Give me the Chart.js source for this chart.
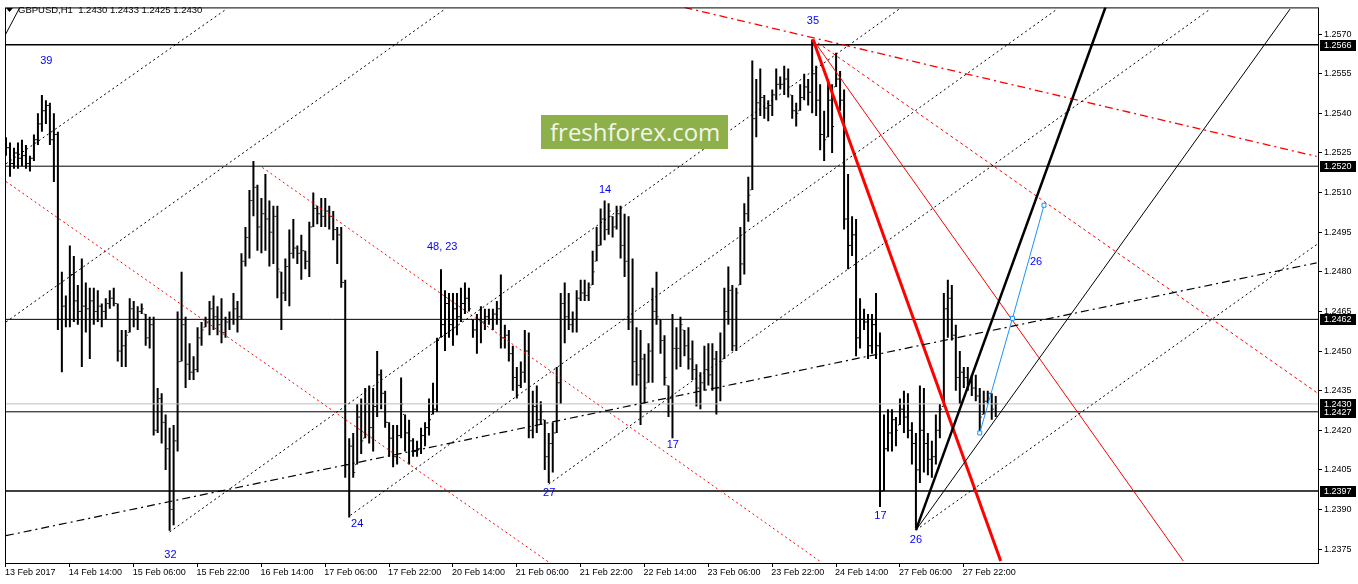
<!DOCTYPE html>
<html>
<head>
<meta charset="utf-8">
<title>GBPUSD,H1</title>
<script src="https://cdn.jsdelivr.net/npm/chart.js@4.4.1/dist/chart.umd.min.js"></script>
<style>
  html, body { margin: 0; padding: 0; background: #fff; }
  #wrap { position: relative; width: 1358px; height: 584px; }
  #watermark {
    position: absolute; left: 541px; top: 115px; width: 187px; height: 34px;
    background: #8db04a; color: #f2f6ea; font: 24px 'Open Sans', sans-serif;
    line-height: 34px; padding-left: 9px; box-sizing: border-box; white-space: nowrap;
  }
</style>
</head>
<body>
<div id="wrap">
  <canvas id="chart" width="1358" height="584"></canvas>
  <div id="watermark">freshforex.com</div>
</div>
<script>
// Hourly bars, 13 Feb 2017 22:00 .. 28 Feb 06:00 (bar index = hours on the chart)
const opens = [
  1.2525,1.2527,1.2521,1.2525,1.2523,1.2524,1.2521,1.2523,1.2530,1.2536,
  1.2541,1.2543,1.2530,1.2532,1.2462,1.2467,1.2462,1.2479,1.2469,1.2465,
  1.2467,1.2466,1.2469,1.2465,1.2467,1.2465,1.2468,1.2470,1.2468,1.2450,
  1.2452,1.2457,1.2466,1.2462,1.2465,1.2464,1.2455,1.2460,1.2420,1.2432,
  1.2423,1.2413,1.2390,1.2416,1.2446,1.2460,1.2445,1.2442,1.2443,1.2455,
  1.2459,1.2461,1.2466,1.2463,1.2460,1.2457,1.2461,1.2462,1.2466,1.2463,
  1.2484,1.2493,1.2507,1.2512,1.2497,1.2502,1.2500,1.2495,1.2501,1.2480,
  1.2472,1.2482,1.2487,1.2489,1.2487,1.2488,1.2484,1.2497,1.2504,1.2502,
  1.2501,1.2503,1.2501,1.2496,1.2494,1.2476,1.2407,1.2414,1.2407,1.2425,
  1.2417,1.2430,1.2421,1.2429,1.2441,1.2434,1.2423,1.2417,1.2410,1.2418,
  1.2426,1.2419,1.2416,1.2412,1.2413,1.2418,1.2421,1.2426,1.2428,1.2455,
  1.2460,1.2468,1.2460,1.2466,1.2463,1.2468,1.2470,1.2462,1.2458,1.2462,
  1.2461,1.2463,1.2462,1.2464,1.2466,1.2455,1.2456,1.2449,1.2440,1.2437,
  1.2442,1.2450,1.2420,1.2429,1.2424,1.2424,1.2410,1.2415,1.2419,1.2438,
  1.2468,1.2463,1.2460,1.2462,1.2470,1.2472,1.2471,1.2475,1.2484,1.2490,
  1.2500,1.2496,1.2501,1.2497,1.2502,1.2490,1.2484,1.2461,1.2446,1.2441,
  1.2447,1.2438,1.2450,1.2465,1.2462,1.2454,1.2437,1.2432,1.2451,1.2451,
  1.2458,1.2452,1.2447,1.2443,1.2436,1.2438,1.2443,1.2441,1.2447,1.2436,
  1.2447,1.2465,1.2473,1.2452,1.2475,1.2483,1.2502,1.2511,1.2538,1.2544,
  1.2546,1.2542,1.2543,1.2547,1.2551,1.2551,1.2553,1.2547,1.2541,1.2541,
  1.2546,1.2550,1.2548,1.2555,1.2545,1.2532,1.2531,1.2545,1.2550,1.2553,
  1.2545,1.2500,1.2490,1.2494,1.2455,1.2462,1.2461,1.2452,1.2460,1.2452,
  1.2397,1.2413,1.2419,1.2424,1.2422,1.2428,1.2425,1.2420,1.2415,1.2405,
  1.2420,1.2415,1.2409,1.2410,1.2420,1.2429,1.2466,1.2470,1.2456,1.2440,
  1.2442,1.2440,1.2438,1.2436,1.2433,1.2426,1.2431,1.2434,1.2430
];
const highs = [
  1.2531,1.2529,1.2527,1.2529,1.2530,1.2528,1.2524,1.2532,1.2540,1.2547,
  1.2545,1.2544,1.2540,1.2533,1.2480,1.2471,1.2490,1.2486,1.2475,1.2485,
  1.2476,1.2474,1.2474,1.2473,1.2468,1.2470,1.2473,1.2474,1.2468,1.2458,
  1.2458,1.2470,1.2469,1.2467,1.2468,1.2464,1.2463,1.2463,1.2436,1.2434,
  1.2426,1.2421,1.2422,1.2465,1.2480,1.2463,1.2453,1.2448,1.2459,1.2461,
  1.2463,1.2469,1.2471,1.2467,1.2470,1.2463,1.2465,1.2472,1.2469,1.2487,
  1.2497,1.2511,1.2522,1.2513,1.2508,1.2517,1.2507,1.2505,1.2505,1.2480,
  1.2485,1.2496,1.2500,1.2490,1.2494,1.2488,1.2499,1.2510,1.2505,1.2508,
  1.2508,1.2505,1.2503,1.2497,1.2497,1.2477,1.2417,1.2419,1.2430,1.2432,
  1.2436,1.2437,1.2436,1.2450,1.2443,1.2435,1.2423,1.2422,1.2422,1.2440,
  1.2426,1.2424,1.2417,1.2416,1.2421,1.2423,1.2432,1.2438,1.2455,1.2481,
  1.2473,1.2472,1.2472,1.2472,1.2474,1.2476,1.2474,1.2462,1.2464,1.2467,
  1.2466,1.2466,1.2466,1.2469,1.2479,1.2460,1.2458,1.2452,1.2444,1.2446,
  1.2458,1.2457,1.2435,1.2437,1.2431,1.2424,1.2419,1.2423,1.2444,1.2472,
  1.2476,1.2472,1.2465,1.2473,1.2477,1.2477,1.2476,1.2488,1.2497,1.2504,
  1.2507,1.2506,1.2501,1.2505,1.2505,1.2502,1.2501,1.2485,1.2459,1.2458,
  1.2449,1.2453,1.2474,1.2480,1.2462,1.2456,1.2437,1.2464,1.2459,1.2463,
  1.2458,1.2459,1.2454,1.2445,1.2442,1.2452,1.2453,1.2453,1.2450,1.2457,
  1.2474,1.2482,1.2475,1.2474,1.2497,1.2506,1.2516,1.2560,1.2553,1.2557,
  1.2547,1.2545,1.2549,1.2557,1.2554,1.2558,1.2557,1.2547,1.2544,1.2551,
  1.2555,1.2553,1.2568,1.2558,1.2551,1.2541,1.2553,1.2551,1.2563,1.2556,
  1.2549,1.2517,1.2501,1.2500,1.2470,1.2466,1.2464,1.2464,1.2472,1.2457,
  1.2426,1.2428,1.2428,1.2425,1.2432,1.2435,1.2434,1.2423,1.2419,1.2437,
  1.2436,1.2419,1.2416,1.2426,1.2430,1.2472,1.2477,1.2475,1.2460,1.2450,
  1.2444,1.2444,1.2441,1.2441,1.2436,1.2435,1.2435,1.2434,1.2433
];
const lows = [
  1.2524,1.2516,1.2519,1.2519,1.2520,1.2519,1.2518,1.2522,1.2528,1.2533,
  1.2536,1.2528,1.2514,1.2458,1.2442,1.2459,1.2459,1.2461,1.2460,1.2444,
  1.2457,1.2447,1.2460,1.2461,1.2459,1.2462,1.2466,1.2467,1.2446,1.2444,
  1.2444,1.2457,1.2459,1.2458,1.2464,1.2452,1.2451,1.2418,1.2419,1.2415,
  1.2405,1.2382,1.2384,1.2412,1.2446,1.2436,1.2439,1.2439,1.2442,1.2452,
  1.2459,1.2456,1.2458,1.2456,1.2453,1.2455,1.2458,1.2460,1.2457,1.2462,
  1.2482,1.2485,1.2501,1.2488,1.2487,1.2488,1.2482,1.2483,1.2470,1.2458,
  1.2469,1.2467,1.2485,1.2483,1.2477,1.2481,1.2478,1.2497,1.2498,1.2497,
  1.2497,1.2496,1.2492,1.2483,1.2474,1.2402,1.2387,1.2402,1.2407,1.2411,
  1.2417,1.2415,1.2412,1.2425,1.2428,1.2421,1.2410,1.2406,1.2407,1.2417,
  1.2412,1.2407,1.2410,1.2410,1.2411,1.2414,1.2418,1.2426,1.2427,1.2455,
  1.2450,1.2455,1.2452,1.2456,1.2461,1.2464,1.2465,1.2455,1.2449,1.2453,
  1.2458,1.2460,1.2458,1.2460,1.2451,1.2451,1.2446,1.2435,1.2432,1.2436,
  1.2438,1.2417,1.2417,1.2419,1.2422,1.2405,1.2400,1.2404,1.2419,1.2430,
  1.2453,1.2458,1.2457,1.2457,1.2469,1.2469,1.2469,1.2475,1.2484,1.2490,
  1.2492,1.2494,1.2493,1.2496,1.2485,1.2478,1.2458,1.2437,1.2437,1.2422,
  1.2430,1.2438,1.2438,1.2460,1.2449,1.2437,1.2425,1.2417,1.2443,1.2444,
  1.2448,1.2443,1.2439,1.2429,1.2428,1.2435,1.2437,1.2435,1.2426,1.2431,
  1.2447,1.2460,1.2450,1.2450,1.2475,1.2479,1.2499,1.2511,1.2531,1.2539,
  1.2538,1.2537,1.2539,1.2545,1.2549,1.2547,1.2546,1.2538,1.2535,1.2541,
  1.2545,1.2543,1.2540,1.2539,1.2526,1.2522,1.2531,1.2525,1.2550,1.2541,
  1.2496,1.2481,1.2486,1.2448,1.2451,1.2458,1.2447,1.2449,1.2447,1.2391,
  1.2397,1.2412,1.2412,1.2414,1.2422,1.2419,1.2417,1.2407,1.2383,1.2400,
  1.2404,1.2403,1.2402,1.2407,1.2417,1.2429,1.2455,1.2454,1.2435,1.2430,
  1.2436,1.2435,1.2433,1.2431,1.2419,1.2426,1.2430,1.2424,1.2425
];
const closes = [
  1.2527,1.2521,1.2525,1.2523,1.2524,1.2521,1.2523,1.2530,1.2536,1.2541,
  1.2543,1.2530,1.2532,1.2462,1.2467,1.2462,1.2479,1.2469,1.2465,1.2467,
  1.2466,1.2469,1.2465,1.2467,1.2465,1.2468,1.2470,1.2468,1.2450,1.2452,
  1.2456,1.2466,1.2462,1.2465,1.2466,1.2455,1.2460,1.2420,1.2432,1.2423,
  1.2413,1.2390,1.2416,1.2446,1.2460,1.2445,1.2442,1.2443,1.2455,1.2458,
  1.2461,1.2466,1.2463,1.2460,1.2457,1.2461,1.2462,1.2466,1.2463,1.2484,
  1.2493,1.2507,1.2512,1.2497,1.2502,1.2500,1.2495,1.2501,1.2481,1.2472,
  1.2482,1.2487,1.2489,1.2487,1.2488,1.2484,1.2497,1.2504,1.2502,1.2501,
  1.2503,1.2501,1.2496,1.2494,1.2476,1.2407,1.2414,1.2404,1.2425,1.2416,
  1.2430,1.2421,1.2429,1.2441,1.2434,1.2423,1.2417,1.2410,1.2418,1.2430,
  1.2419,1.2416,1.2412,1.2413,1.2418,1.2421,1.2424,1.2428,1.2454,1.2460,
  1.2468,1.2460,1.2466,1.2463,1.2468,1.2470,1.2466,1.2458,1.2462,1.2461,
  1.2463,1.2462,1.2464,1.2466,1.2455,1.2456,1.2449,1.2440,1.2437,1.2442,
  1.2450,1.2420,1.2429,1.2424,1.2427,1.2410,1.2415,1.2419,1.2438,1.2468,
  1.2463,1.2460,1.2462,1.2470,1.2472,1.2471,1.2474,1.2480,1.2490,1.2500,
  1.2496,1.2503,1.2497,1.2502,1.2490,1.2484,1.2461,1.2446,1.2441,1.2447,
  1.2436,1.2450,1.2465,1.2463,1.2454,1.2440,1.2432,1.2451,1.2451,1.2460,
  1.2452,1.2447,1.2443,1.2436,1.2438,1.2443,1.2441,1.2447,1.2436,1.2446,
  1.2465,1.2473,1.2452,1.2472,1.2483,1.2502,1.2509,1.2538,1.2544,1.2546,
  1.2542,1.2543,1.2547,1.2551,1.2551,1.2553,1.2550,1.2541,1.2540,1.2546,
  1.2550,1.2548,1.2555,1.2545,1.2532,1.2530,1.2545,1.2535,1.2553,1.2545,
  1.2500,1.2490,1.2494,1.2455,1.2462,1.2461,1.2452,1.2460,1.2452,1.2397,
  1.2413,1.2419,1.2424,1.2420,1.2428,1.2425,1.2420,1.2415,1.2405,1.2420,
  1.2415,1.2409,1.2410,1.2420,1.2428,1.2466,1.2470,1.2456,1.2440,1.2442,
  1.2440,1.2438,1.2436,1.2433,1.2425,1.2431,1.2434,1.2428,1.2430
];

// time axis
const tickBars = [0, 16, 32, 48, 64, 80, 96, 112, 128, 144, 160, 176, 192, 208, 224, 240];
const tickLabels = ['13 Feb 2017', '14 Feb 14:00', '15 Feb 06:00', '15 Feb 22:00', '16 Feb 14:00',
  '17 Feb 06:00', '17 Feb 22:00', '20 Feb 14:00', '21 Feb 06:00', '21 Feb 22:00', '22 Feb 14:00',
  '23 Feb 06:00', '23 Feb 22:00', '24 Feb 14:00', '27 Feb 06:00', '27 Feb 22:00'];

// price axis
const priceTicks = [1.2375, 1.2390, 1.2405, 1.2420, 1.2435, 1.2450, 1.2465,
  1.2480, 1.2495, 1.2510, 1.2525, 1.2540, 1.2555, 1.2570];
const priceMin = 1.236975;
const priceMax = 1.2580125;
const levelPrices = [1.2566, 1.2520, 1.2462, 1.2427, 1.2397];
const bidPrice = 1.2430;
const levelBoxes = [1.2566, 1.2520, 1.2462, 1.2430, 1.2427, 1.2397];

// trend lines, [bar, price] pairs
const channelA = [[0, 1.25209], [54.75, 1.25790]];
const channelB = [[0, 1.24610], [110, 1.25795]];
const channelC = [[41, 1.23815], [224, 1.25797]];
const channelD = [[86.3, 1.23878], [263.4, 1.25795]];
const channelE = [[136, 1.23996], [301.75, 1.25795]];
const channelG = [[228, 1.23822], [328.4, 1.24903]];
const cornerLine = [[-0.25, 1.25695], [3.5, 1.25802]];
const slowLine = [[0, 1.23801], [328.4, 1.24834]];
const fanThick = [[228, 1.23822], [275.5, 1.25802]];
const fanThin = [[228, 1.23822], [321.75, 1.25795]];
const redDotA = [[0, 1.25142], [136.25, 1.23698]];
const redDotB = [[64.25, 1.25195], [204.25, 1.23701]];
const redDashDot = [[170, 1.25801], [328.4, 1.25237]];
const redDash = [[202.2, 1.25680], [328.8, 1.24339]];
const redThin = [[202.2, 1.25680], [295, 1.23705]];
const redThick = [[202.2, 1.25680], [249.25, 1.23705]];
const blueWave = [[244, 1.24190], [252.2, 1.24624], [260.1, 1.25052]];

// wave labels
const waveLabels = ['39', '32', '24', '48, 23', '27', '14', '17', '35', '17', '26', '26'];
const waveBars = [10.1, 41.2, 88, 109.3, 136.1, 150.1, 167.1, 202.2, 219.1, 228, 258.1];
const wavePrices = [1.25599, 1.23727, 1.23844, 1.24896, 1.23962, 1.25109, 1.24143, 1.25750, 1.23874, 1.23784, 1.24837];

const seg = (pts, color, width, dash, extra) => Object.assign({
  type: 'line',
  data: pts.map(([x, y]) => ({ x, y })),
  borderColor: color,
  borderWidth: width,
  borderDash: dash || [],
  pointRadius: 0,
  fill: false,
  tension: 0,
  order: 1
}, extra || {});

const dotted = [2, 3];
const dashDot = [8, 4, 2, 4];

const datasets = [
  // price bars: high-low range plus open / close ticks
  {
    type: 'bar',
    data: highs.map((h, i) => ({ x: i, y: [lows[i], h] })),
    backgroundColor: '#000',
    borderWidth: 0,
    inflateAmount: 0,
    barThickness: 2,
    order: 10
  },
  {
    type: 'line',
    data: opens.map((v, i) => ({ x: i - 0.375, y: v })),
    showLine: false, pointStyle: 'line', pointRadius: 0.5, pointBorderWidth: 1,
    pointBorderColor: '#000', order: 9
  },
  {
    type: 'line',
    data: closes.map((v, i) => ({ x: i + 0.375, y: v })),
    showLine: false, pointStyle: 'line', pointRadius: 0.5, pointBorderWidth: 1,
    pointBorderColor: '#000', order: 9
  },
  seg([[-1, bidPrice], [330, bidPrice]], '#c0c0c0', 1, null, { order: 8 })
];

levelPrices.forEach((p, k) => {
  datasets.push(seg([[-1, p], [330, p]], '#000', (k === 0 || k === 4) ? 1.5 : 1, null, { order: 7 }));
});

[channelA, channelB, channelC, channelD, channelE, channelG].forEach(l => datasets.push(seg(l, '#000', 1, dotted)));
datasets.push(seg(cornerLine, '#000', 1));
datasets.push(seg(slowLine, '#000', 1.2, dashDot));
datasets.push(seg(fanThin, '#000', 1));
datasets.push(seg(fanThick, '#000', 2.5));
datasets.push(seg(redDotA, '#ff0000', 1, dotted));
datasets.push(seg(redDotB, '#ff0000', 1, dotted));
datasets.push(seg(redDashDot, '#ff0000', 1.3, dashDot));
datasets.push(seg(redDash, '#ff0000', 1, [3, 3]));
datasets.push(seg(redThin, '#ff0000', 1));
datasets.push(seg(redThick, '#ff0000', 3));
datasets.push(seg(blueWave, '#1e90ff', 1, null, {
  pointRadius: 2.8, pointStyle: 'rect', pointBorderColor: '#1e90ff',
  pointBackgroundColor: '#fff', pointBorderWidth: 1, order: 0
}));

const axisFont = { family: '"Liberation Sans", Arial, sans-serif', size: 9 };

const overlay = {
  id: 'overlay',
  afterDatasetsDraw(chart) {
    const { ctx, chartArea: a, scales: { x, y } } = chart;
    ctx.save();
    ctx.font = '11px "Liberation Sans", Arial, sans-serif';
    ctx.fillStyle = '#0000ff';
    ctx.textAlign = 'center';
    ctx.textBaseline = 'middle';
    waveLabels.forEach((t, k) => {
      ctx.fillText(t, x.getPixelForValue(waveBars[k]), y.getPixelForValue(wavePrices[k]));
    });
    // chart frame
    ctx.strokeStyle = '#000';
    ctx.lineWidth = 1;
    ctx.strokeRect(a.left + 0.5, a.top + 0.5, a.right - a.left, a.bottom - a.top);
    ctx.restore();
  },
  afterDraw(chart) {
    const { ctx, chartArea: a, scales: { y } } = chart;
    ctx.save();
    // price level boxes on the right axis
    ctx.font = '9px "Liberation Sans", Arial, sans-serif';
    ctx.textAlign = 'left';
    ctx.textBaseline = 'middle';
    levelBoxes.forEach(p => {
      const py = Math.round(y.getPixelForValue(p));
      ctx.fillStyle = '#000';
      ctx.fillRect(a.right + 2, py - 5, 36, 11);
      ctx.fillStyle = '#fff';
      ctx.fillText(p.toFixed(4), a.right + 6, py + 0.5);
    });
    // symbol header
    ctx.fillStyle = '#000';
    ctx.beginPath();
    ctx.moveTo(6, 8); ctx.lineTo(13, 8); ctx.lineTo(9.5, 12); ctx.closePath();
    ctx.fill();
    ctx.font = '9.5px "Liberation Sans", Arial, sans-serif';
    ctx.fillText('GBPUSD,H1  1.2430 1.2433 1.2425 1.2430', 18, 10.5);
    ctx.restore();
  }
};

new Chart(document.getElementById('chart'), {
  type: 'bar',
  data: { datasets },
  options: {
    responsive: false,
    animation: false,
    events: [],
    layout: { padding: { left: 2, top: 2, right: 0, bottom: 0 } },
    plugins: { legend: { display: false }, tooltip: { enabled: false } },
    scales: {
      x: {
        type: 'linear',
        min: -0.25,
        max: 328.75,
        offset: false,
        afterBuildTicks: s => { s.ticks = tickBars.map(v => ({ value: v })); },
        afterFit: s => { s.height = 21; },
        grid: { offset: false, drawOnChartArea: false, drawTicks: true, tickLength: 4, color: '#000' },
        border: { display: false },
        ticks: {
          autoSkip: false, maxRotation: 0, align: 'start', padding: 0, labelOffset: -1,
          color: '#000', font: axisFont,
          callback: (v, i) => tickLabels[i]
        }
      },
      y: {
        type: 'linear',
        position: 'right',
        min: priceMin,
        max: priceMax,
        afterBuildTicks: s => { s.ticks = priceTicks.map(v => ({ value: v })); },
        afterFit: s => { s.width = 40; },
        grid: { drawOnChartArea: false, drawTicks: true, tickLength: 4, color: '#000' },
        border: { display: false },
        ticks: { padding: 2, color: '#000', font: axisFont, callback: v => v.toFixed(4) }
      }
    }
  },
  plugins: [overlay]
});
</script>
</body>
</html>
